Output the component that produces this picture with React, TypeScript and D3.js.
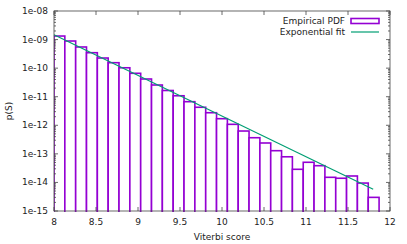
import React, {useEffect, useRef} from 'react'
import * as d3 from 'd3'

// histogram of viterbi scores (bin width)
const binStart = 8
const binWidth = 0.129
const pdfValues = [
	1.33e-9, 8.9e-10, 5.5e-10, 3.47e-10, 2.26e-10, 1.55e-10, 1.03e-10, 6.6e-11,
	4.17e-11, 2.57e-11, 1.65e-11, 1.08e-11, 6.7e-12, 4.27e-12, 2.75e-12, 1.7e-12,
	1.08e-12, 6.3e-13, 3.67e-13, 2.4e-13, 1.29e-13, 7.9e-14, 2.88e-14, 5.07e-14,
	3.85e-14, 1.51e-14, 1.4e-14, 1.68e-14, 9.5e-15, 3.0e-15
]

// exponential fit, end points
const fitX = [8, 11.8]
const fitY = [1.48e-9, 5.75e-15]

const xTicks = [8, 8.5, 9, 9.5, 10, 10.5, 11, 11.5, 12]
const yTicks = [1e-8, 1e-9, 1e-10, 1e-11, 1e-12, 1e-13, 1e-14, 1e-15]
const yTickLabels = ['1e-08', '1e-09', '1e-10', '1e-11', '1e-12', '1e-13', '1e-14', '1e-15']

const legendLabels = ['Empirical PDF', 'Exponential fit']

const W = 407, H = 244
const left = 54, right = 390, top = 11, bottom = 211
const purple = '#9400d3'
const green = '#009e73'
const font = 'DejaVu Sans, sans-serif'

export default function App() {
	const ref = useRef<SVGSVGElement>(null)

	useEffect(() => {
		const svg = d3.select(ref.current)
		svg.selectAll('*').remove()

		const x = d3.scaleLinear().domain([8, 12]).range([left, right])
		const y = d3.scaleLog().domain([1e-15, 1e-8]).range([bottom, top])

		svg.append('defs').append('clipPath').attr('id', 'plotclip')
			.append('rect')
			.attr('x', left).attr('y', top)
			.attr('width', right - left).attr('height', bottom - top + 1)

		// bars
		const bars = svg.append('g').attr('clip-path', 'url(#plotclip)')
		bars.selectAll('rect')
			.data(pdfValues)
			.enter()
			.append('rect')
			.attr('x', (d, i) => x(binStart + i * binWidth))
			.attr('y', d => y(d))
			.attr('width', x(binStart + binWidth) - x(binStart))
			.attr('height', d => bottom + 2 - y(d))
			.attr('fill', 'white')
			.attr('stroke', purple)
			.attr('stroke-width', 1.6)

		// fit line
		const line = d3.line<number>()
			.x((d, i) => x(fitX[i]))
			.y(d => y(d))
		svg.append('path')
			.attr('d', line(fitY))
			.attr('fill', 'none')
			.attr('stroke', green)
			.attr('stroke-width', 1.2)

		// border
		svg.append('rect')
			.attr('x', left).attr('y', top)
			.attr('width', right - left).attr('height', bottom - top)
			.attr('fill', 'none')
			.attr('stroke', '#444')
			.attr('stroke-width', 0.8)

		const axes = svg.append('g').attr('stroke', '#444').attr('stroke-width', 0.8)

		// x ticks, bottom and top
		xTicks.forEach(t => {
			axes.append('line').attr('x1', x(t)).attr('x2', x(t)).attr('y1', bottom).attr('y2', bottom - 4)
			axes.append('line').attr('x1', x(t)).attr('x2', x(t)).attr('y1', top).attr('y2', top + 4)
		})

		// y ticks, major and minor, both sides
		yTicks.forEach(t => {
			axes.append('line').attr('x1', left).attr('x2', left + 4).attr('y1', y(t)).attr('y2', y(t))
			axes.append('line').attr('x1', right).attr('x2', right - 4).attr('y1', y(t)).attr('y2', y(t))
			if (t < 1e-8) {
				d3.range(2, 10).forEach(m => {
					const v = t * m
					axes.append('line').attr('x1', left).attr('x2', left + 2).attr('y1', y(v)).attr('y2', y(v))
					axes.append('line').attr('x1', right).attr('x2', right - 2).attr('y1', y(v)).attr('y2', y(v))
				})
			}
		})

		const txt = svg.append('g').attr('font-family', font).attr('font-size', 9).attr('fill', '#222')

		txt.selectAll('.xl')
			.data(xTicks)
			.enter()
			.append('text')
			.attr('x', d => x(d))
			.attr('y', 225)
			.attr('text-anchor', 'middle')
			.text(d => String(d))

		txt.selectAll('.yl')
			.data(yTicks)
			.enter()
			.append('text')
			.attr('x', 48)
			.attr('y', d => y(d) + 3)
			.attr('text-anchor', 'end')
			.text((d, i) => yTickLabels[i])

		txt.append('text')
			.attr('x', (left + right) / 2)
			.attr('y', 240)
			.attr('text-anchor', 'middle')
			.text('Viterbi score')

		txt.append('text')
			.attr('transform', `translate(12,${(top + bottom) / 2}) rotate(-90)`)
			.attr('text-anchor', 'middle')
			.text('p(S)')

		// legend
		const lg = svg.append('g')
		legendLabels.forEach((label, i) => {
			const ly = 21 + i * 11
			lg.append('text')
				.attr('x', 345).attr('y', ly + 3)
				.attr('text-anchor', 'end')
				.attr('font-family', font).attr('font-size', 9).attr('fill', '#222')
				.text(label)
			if (i === 0) {
				lg.append('rect')
					.attr('x', 351).attr('y', ly - 2.5)
					.attr('width', 28).attr('height', 5)
					.attr('fill', 'white').attr('stroke', purple).attr('stroke-width', 1.6)
			} else {
				lg.append('line')
					.attr('x1', 351).attr('x2', 379).attr('y1', ly).attr('y2', ly)
					.attr('stroke', green).attr('stroke-width', 1.2)
			}
		})
	}, [])

	return (
		<svg ref={ref} width={W} height={H}
			style={{position: 'absolute', left: 0, top: 0, background: 'white'}}/>
	)
}
